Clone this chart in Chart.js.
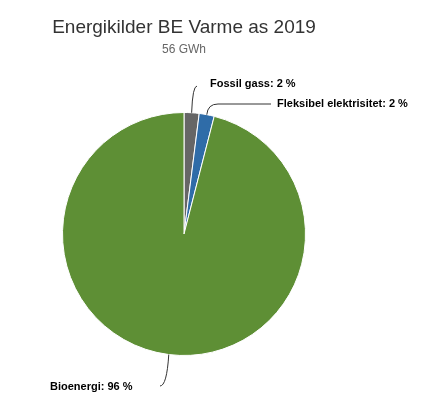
<!DOCTYPE html>
<html>
<head>
<meta charset="utf-8">
<script src="https://cdn.jsdelivr.net/npm/chart.js@4"></script>
<style>
  body { margin: 0; background: #fff; }
  #wrap { width: 442px; height: 400px; }
</style>
</head>
<body>
<div id="wrap"><canvas id="pieChart"></canvas></div>
<script>
const labels = ['Fossil gass', 'Fleksibel elektrisitet', 'Bioenergi'];
const shares = [2, 2, 96];
const colors = ['#666666', '#2f6ca8', '#5e8f35'];

// label spots: [textX, textY, align, elbowX, elbowY]
const labelSpots = [
    [210, 84, 'left', 191, 86],
    [277, 104, 'left', 212, 104],
    [50, 387, 'left', 168, 386]
];

const drawText = {
    id: 'drawText',
    afterDraw(chart) {
        const ctx = chart.ctx;
        ctx.save();
        ctx.textAlign = 'center';
        ctx.textBaseline = 'middle';
        ctx.fillStyle = '#333333';
        ctx.font = '19px "Liberation Sans", Arial, sans-serif';
        ctx.fillText('Energikilder BE Varme as 2019', 184, 28);
        ctx.fillStyle = '#666666';
        ctx.font = '12px "Liberation Sans", Arial, sans-serif';
        ctx.fillText('56 GWh', 184, 50);

        const arcs = chart.getDatasetMeta(0).data;
        arcs.forEach((arc, i) => {
            const mid = (arc.startAngle + arc.endAngle) / 2;
            const r = arc.outerRadius;
            const ax = arc.x + Math.cos(mid) * r;
            const ay = arc.y + Math.sin(mid) * r;
            const s = labelSpots[i];
            ctx.strokeStyle = '#333333';
            ctx.lineWidth = 1;
            ctx.beginPath();
            ctx.moveTo(ax, ay);
            ctx.quadraticCurveTo(i === 2 ? ax - 2 : ax + 1, s[4], s[3] + (i === 2 ? -8 : 6), s[4]);
            if (i === 1) ctx.lineTo(s[0] - 6, s[1]);
            ctx.stroke();
            ctx.fillStyle = '#000000';
            ctx.textAlign = s[2];
            ctx.font = 'bold 11px "Liberation Sans", Arial, sans-serif';
            ctx.fillText(labels[i] + ': ' + shares[i] + ' %', s[0], s[1]);
        });
        ctx.restore();
    }
};

new Chart('pieChart', {
    type: 'pie',
    data: {
        labels: labels,
        datasets: [{
            data: shares,
            backgroundColor: colors,
            borderColor: '#ffffff',
            borderWidth: 1
        }]
    },
    options: {
        responsive: true,
        maintainAspectRatio: false,
        animation: false,
        layout: { padding: { left: 62, right: 136, top: 112, bottom: 44 } },
        plugins: {
            legend: { display: false },
            tooltip: { enabled: false }
        }
    },
    plugins: [drawText]
});
</script>
</body>
</html>
